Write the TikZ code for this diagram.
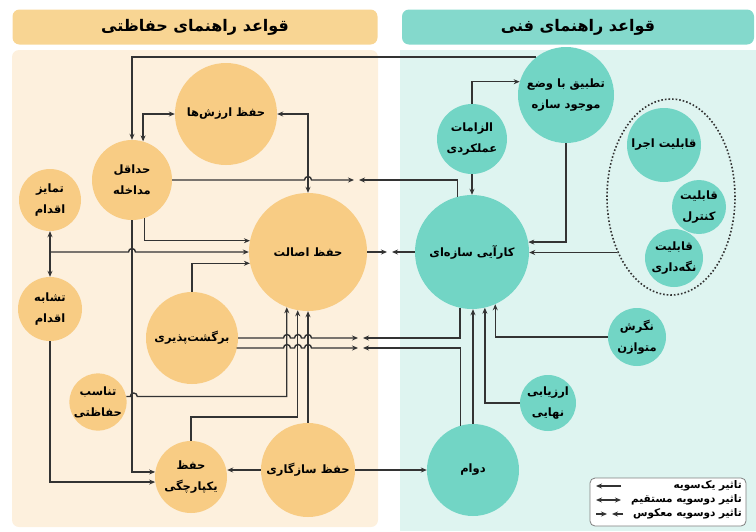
\documentclass[tikz,border=0pt]{standalone}
\usepackage{fontspec}
\usetikzlibrary{arrows.meta,shapes.geometric}
\newfontfamily\arabicfont[Script=Arabic]{DejaVu Sans}
\TeXXeTstate=1
\newcommand{\fa}[1]{\beginR#1\endR}
\definecolor{hforange}{HTML}{F8CC84}
\definecolor{hfbar}{HTML}{F8D593}
\definecolor{hfbody}{HTML}{FDF0DD}
\definecolor{fnteal}{HTML}{72D5C5}
\definecolor{fnbar}{HTML}{84D9CC}
\definecolor{fnbody}{HTML}{DEF4F0}
\definecolor{linkgray}{HTML}{333333}

\begin{document}
\begin{tikzpicture}[
  x=1pt, y=-1pt,
  hfnode/.style={circle, fill=hforange, inner sep=0pt, align=center,
    font=\arabicfont\bfseries\fontsize{11.5}{21}\selectfont},
  fnnode/.style={circle, fill=fnteal, inner sep=0pt, align=center,
    font=\arabicfont\bfseries\fontsize{11.5}{21}\selectfont},
  titlebar/.style={rounded corners=7pt, minimum height=35pt,
    font=\arabicfont\bfseries\fontsize{16}{18}\selectfont},
  legendtext/.style={anchor=east, inner sep=0pt,
    font=\arabicfont\bfseries\fontsize{10.5}{12}\selectfont},
  link/.style={line width=1.4pt, draw=linkgray},
  onearrow/.style={link, -{Stealth[length=6pt,width=5pt]}},
  twoarrow/.style={link, {Stealth[length=6pt,width=5pt]}-{Stealth[length=6pt,width=5pt]}}
]
  \useasboundingbox (0,0) rectangle (756,531);

  % Panels
  \fill[hfbody, rounded corners=7pt] (12,50) rectangle (378,527);
  \fill[fnbody] (400,50) rectangle (756,531);
  \node[titlebar, fill=hfbar, minimum width=365pt] (hftitle) at (195,27)
    {\fa{قواعد راهنمای حفاظتی}};
  \node[titlebar, fill=fnbar, minimum width=352pt] (fntitle) at (578,27)
    {\fa{قواعد راهنمای فنی}};

  % Conservation rules
  \node[hfnode, minimum size=102pt] (arzesh) at (226,114) {\fa{حفظ ارزش^^^^200cها}};
  \node[hfnode, minimum size=80pt] (hadaqal) at (132,180) {\fa{حداقل}\\\fa{مداخله}};
  \node[hfnode, minimum size=62pt] (tamayoz) at (50,200) {\fa{تمایز}\\\fa{اقدام}};
  \node[hfnode, minimum size=64pt] (tashaboh) at (50,309) {\fa{تشابه}\\\fa{اقدام}};
  \node[hfnode, minimum size=118pt] (esalat) at (308,252) {\fa{حفظ اصالت}};
  \node[hfnode, minimum size=92pt] (bargasht) at (192,338) {\fa{برگشت^^^^200cپذیری}};
  \node[hfnode, minimum size=54pt] (tanasob) at (98,402) {\fa{تناسب}\\\fa{حفاظتی}};
  \node[hfnode, minimum size=72pt] (yekpar) at (191,477) {\fa{حفظ}\\\fa{یکپارچگی}};
  \node[hfnode, minimum size=94pt] (sazgari) at (308,470) {\fa{حفظ سازگاری}};

  % Technical rules
  \node[fnnode, minimum size=96pt] (tatbiq) at (566,95) {\fa{تطبیق با وضع}\\\fa{موجود سازه}};
  \node[fnnode, minimum size=70pt] (elzamat) at (472,139) {\fa{الزامات}\\\fa{عملکردی}};
  \node[fnnode, minimum size=114pt] (karaei) at (472,252) {\fa{کارآیی سازه^^^^200cای}};
  \node[fnnode, minimum size=74pt] (ejra) at (664,145) {\fa{قابلیت اجرا}};
  \node[fnnode, minimum size=54pt] (kontrol) at (699,207) {\fa{قابلیت}\\\fa{کنترل}};
  \node[fnnode, minimum size=58pt] (negahdari) at (674,258) {\fa{قابلیت}\\\fa{نگه^^^^200cداری}};
  \node[draw=linkgray, dotted, line width=1.6pt, ellipse, minimum width=128pt,
    minimum height=196pt] (ell) at (671,197) {};
  \node[fnnode, minimum size=58pt] (negaresh) at (637,337) {\fa{نگرش}\\\fa{متوازن}};
  \node[fnnode, minimum size=56pt] (arzyabi) at (548,403) {\fa{ارزیابی}\\\fa{نهایی}};
  \node[fnnode, minimum size=92pt] (davam) at (473,470) {\fa{دوام}};

  % Meeting points of opposite arrows
  \coordinate (m1a) at (354,180);
  \coordinate (m1b) at (359,180);
  \coordinate (m2a) at (387,252);
  \coordinate (m2b) at (392,252);
  \coordinate (m3a) at (358,338);
  \coordinate (m3b) at (363,338);
  \coordinate (m4a) at (358,348);
  \coordinate (m4b) at (363,348);
  \coordinate (j1) at (50,252);

  % Links
  \draw[onearrow] (tatbiq.128) -| (hadaqal.north);
  \draw[twoarrow] (arzesh.west) -| (hadaqal.74);
  \draw[twoarrow] (arzesh.east) -| (esalat.north);
  \draw[onearrow] (hadaqal.east) -- (304.5,180)
    arc[start angle=180, end angle=360, radius=3.5] -- (m1a);
  \draw[onearrow] (karaei.105) |- (m1b);
  \draw[onearrow] (elzamat.north) |- (tatbiq.164);
  \draw[onearrow] (elzamat.south) -- (karaei.north);
  \draw[onearrow] (tatbiq.south) |- (karaei.10);
  \draw[onearrow] (ell.226) -- (ell.226 -| karaei.east);
  \draw[onearrow] (esalat.east) -- (m2a);
  \draw[onearrow] (karaei.west) -- (m2b);
  \draw[twoarrow] (tamayoz.south) -- (tashaboh.north);
  \draw[onearrow] (j1) -- (128.5,252)
    arc[start angle=180, end angle=360, radius=3.5] -- (esalat.west);
  \draw[onearrow] (hadaqal.288) |- (esalat.169);
  \draw[onearrow] (hadaqal.south) |- (yekpar.172);
  \draw[onearrow] (tashaboh.south) |- (yekpar.188);
  \draw[onearrow] (bargasht.north) |- (esalat.191);
  \draw[onearrow] (bargasht.east) -- (283.5,338)
    arc[start angle=180, end angle=360, radius=3.5] -- (294.5,338)
    arc[start angle=180, end angle=360, radius=3.5] -- (304.5,338)
    arc[start angle=180, end angle=360, radius=3.5] -- (m3a);
  \draw[onearrow] ([xshift=-1.5pt]bargasht.east |- m4a) -- (283.5,348)
    arc[start angle=180, end angle=360, radius=3.5] -- (294.5,348)
    arc[start angle=180, end angle=360, radius=3.5] -- (304.5,348)
    arc[start angle=180, end angle=360, radius=3.5] -- (m4a);
  \draw[onearrow] (karaei.258) |- (m3b);
  \draw[onearrow] (davam.106) |- (m4b);
  \draw[onearrow] (tanasob.11) -- ++(4,0)
    arc[start angle=180, end angle=360, radius=3.5] -| (esalat.249);
  \draw[onearrow] (yekpar.north) -- ++(0,-24) -| (esalat.260);
  \draw[onearrow] (sazgari.north) -- (esalat.south);
  \draw[onearrow] (sazgari.west) -- (sazgari.west -| yekpar.east);
  \draw[onearrow] (sazgari.east) -- (davam.west);
  \draw[onearrow] (davam.north) -- (davam.north |- karaei.south);
  \draw[onearrow] (arzyabi.west) -| (karaei.283);
  \draw[onearrow] (negaresh.west) -| (karaei.294);

  % Legend
  \node[draw=gray, fill=white, rounded corners=5pt, line width=0.8pt,
    minimum width=156pt, minimum height=48pt] (legend) at (668,502) {};
  \node[legendtext] (leg1) at (742,486) {\fa{تاثیر یک^^^^200cسویه}};
  \node[legendtext] (leg2) at (742,500) {\fa{تاثیر دوسویه مستقیم}};
  \node[legendtext] (leg3) at (742,514) {\fa{تاثیر دوسویه معکوس}};
  \coordinate (l1a) at (596,486);
  \coordinate (l1b) at (621,486);
  \coordinate (l2a) at (596,500);
  \coordinate (l2b) at (621,500);
  \coordinate (l3a) at (596,514);
  \coordinate (l3m) at (607,514);
  \coordinate (l3n) at (612,514);
  \coordinate (l3b) at (623,514);
  \draw[onearrow] (l1b) -- (l1a);
  \draw[twoarrow] (l2a) -- (l2b);
  \draw[onearrow] (l3a) -- (l3m);
  \draw[onearrow] (l3b) -- (l3n);

\end{tikzpicture}
\end{document}
